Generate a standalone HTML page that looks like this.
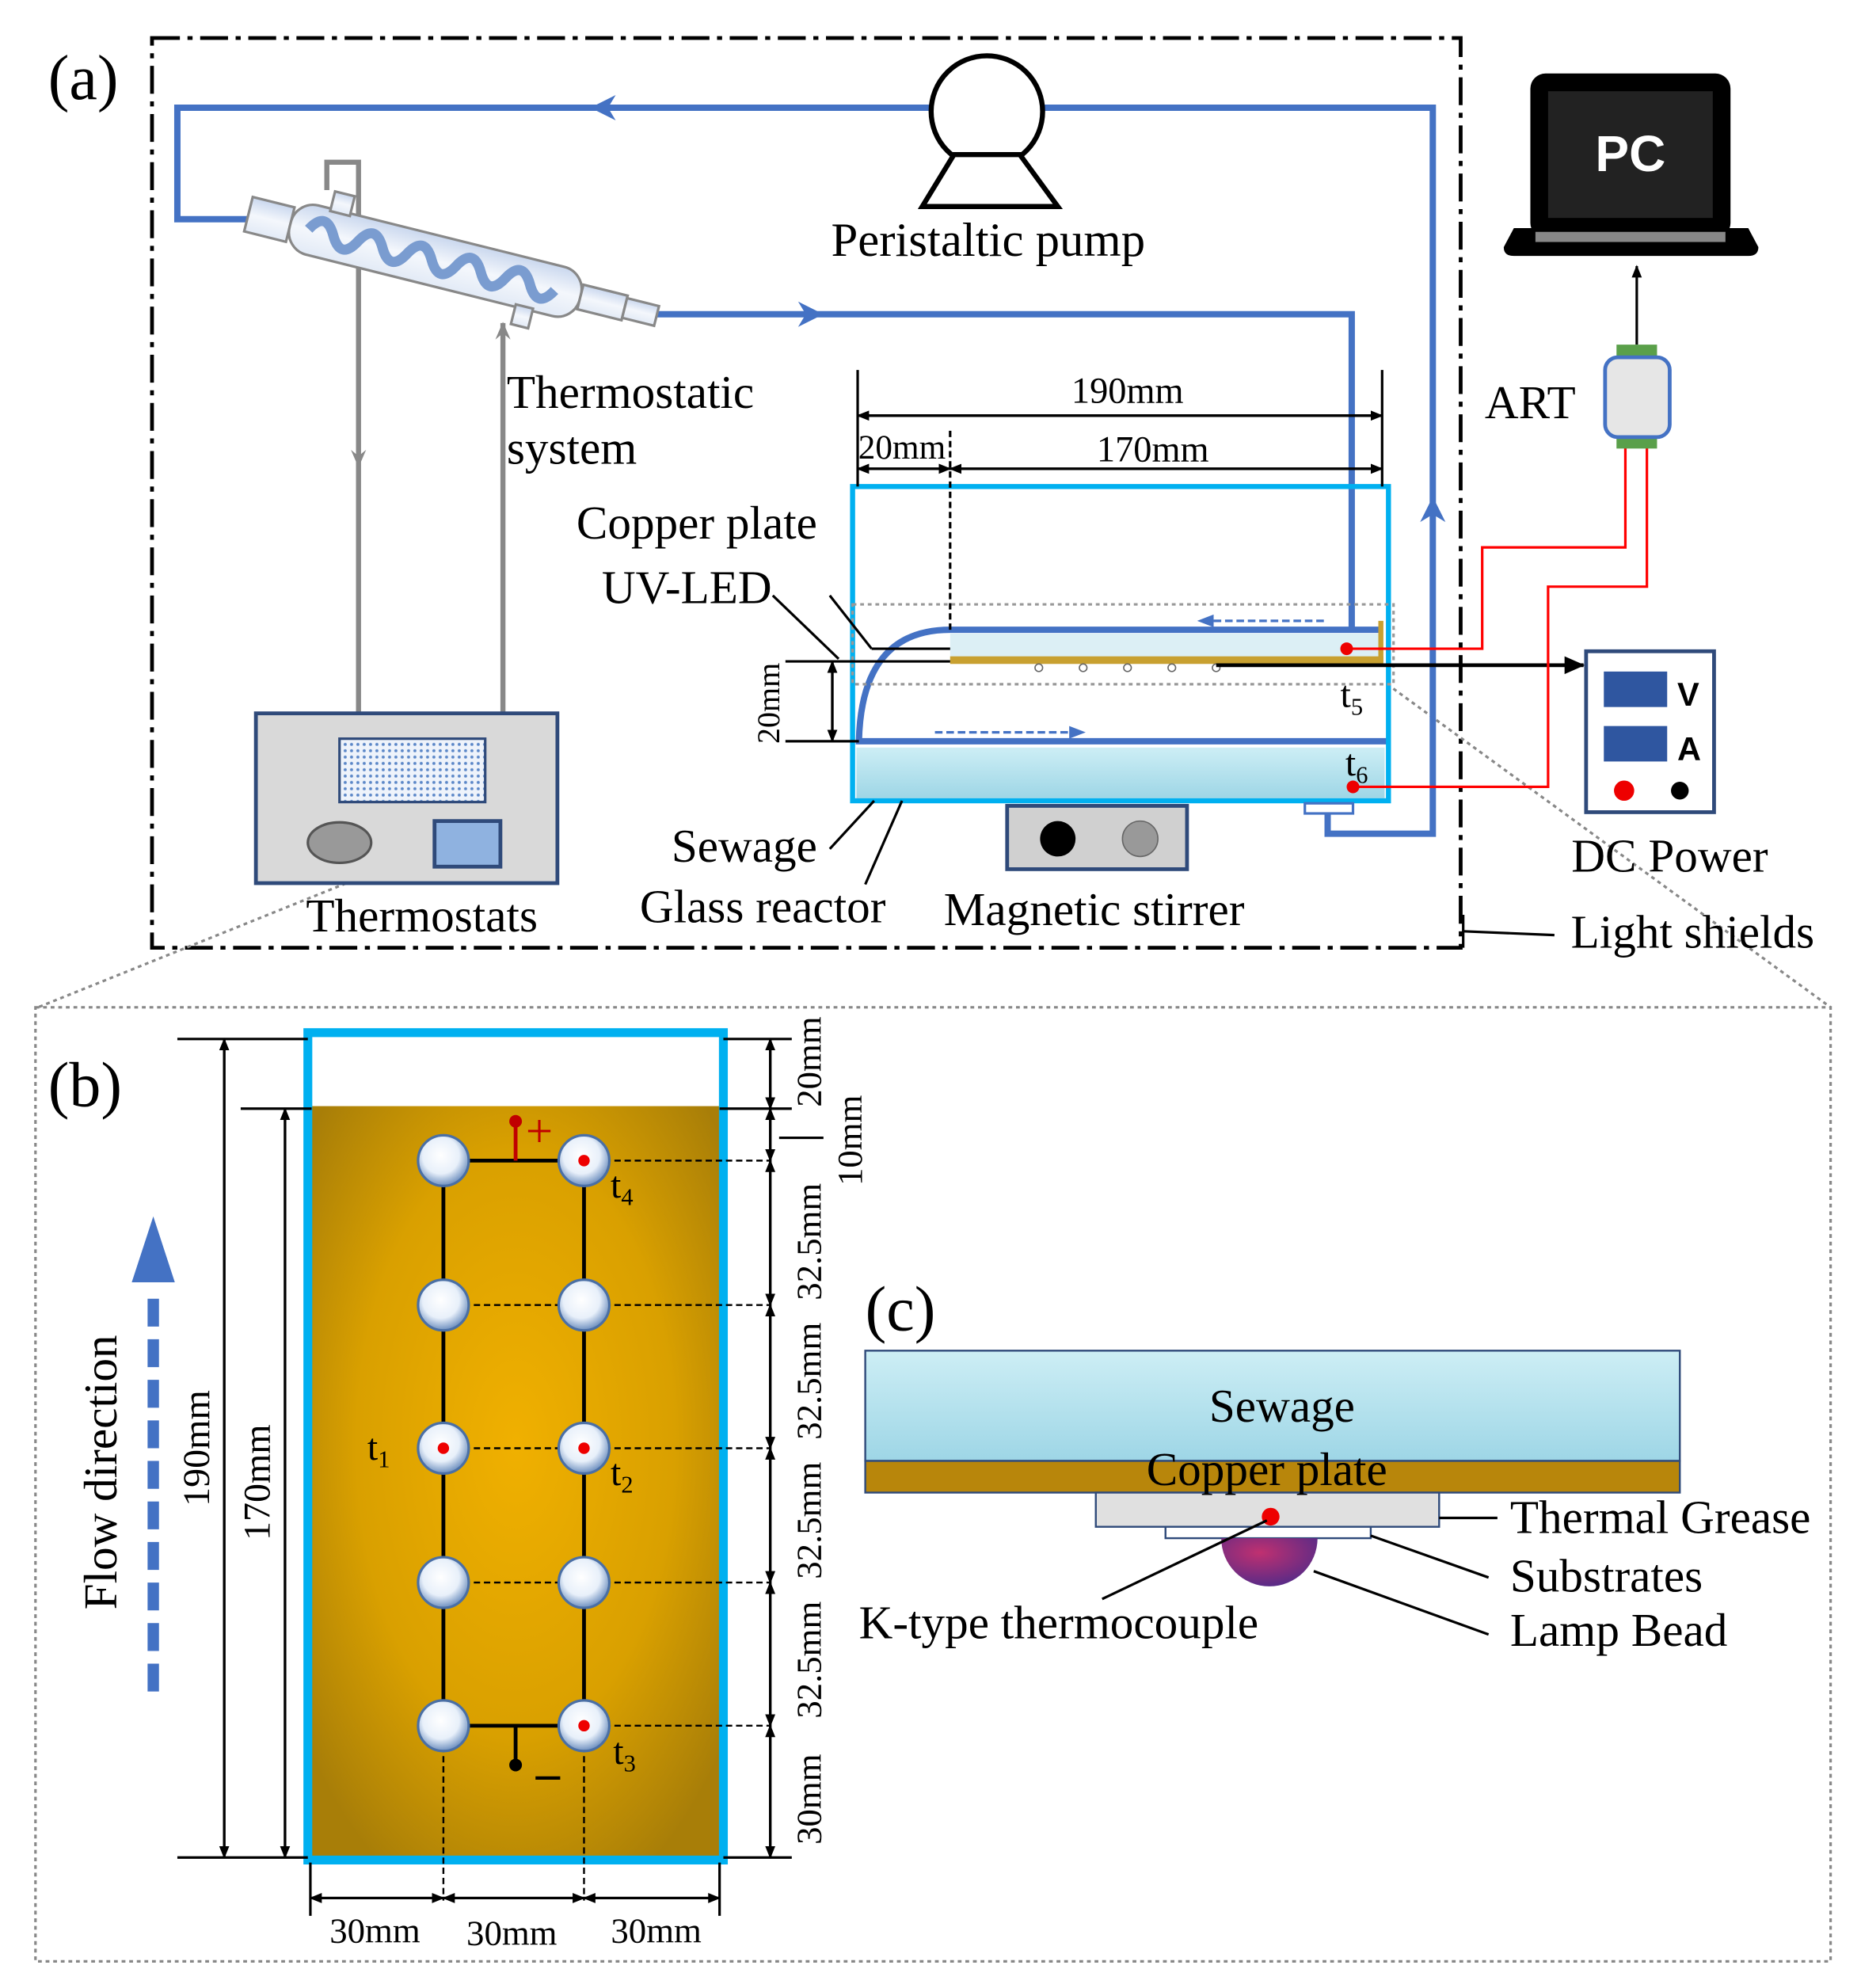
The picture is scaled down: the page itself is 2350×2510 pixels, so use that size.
<!DOCTYPE html>
<html><head><meta charset="utf-8"><style>
html,body{margin:0;padding:0;background:#fff;}
svg{display:block;}
text{font-family:"Liberation Serif",serif;fill:#000;}
</style></head><body>
<svg width="2350" height="2510" viewBox="0 0 1469 1569" preserveAspectRatio="none" xmlns="http://www.w3.org/2000/svg">
<defs>
<radialGradient id="cu" cx="50%" cy="45%" r="65%"><stop offset="0" stop-color="#F0B000"/><stop offset="0.6" stop-color="#D9A000"/><stop offset="1" stop-color="#A87E08"/></radialGradient>
<linearGradient id="water" x1="0" y1="0" x2="0" y2="1"><stop offset="0" stop-color="#CDEEF5"/><stop offset="1" stop-color="#9ED6E6"/></linearGradient>
<radialGradient id="ball" cx="45%" cy="40%" r="60%"><stop offset="0" stop-color="#fff"/><stop offset="0.6" stop-color="#E8F0FA"/><stop offset="1" stop-color="#6D8FBF"/></radialGradient>
<linearGradient id="glass" x1="0" y1="0" x2="0" y2="1"><stop offset="0" stop-color="#C9D7EE"/><stop offset="0.5" stop-color="#F4F7FC"/><stop offset="1" stop-color="#E2EAF6"/></linearGradient>
<radialGradient id="bead" cx="40%" cy="30%" r="80%"><stop offset="0" stop-color="#C03070"/><stop offset="1" stop-color="#4A2A8A"/></radialGradient>
<pattern id="dots" width="5" height="5" patternUnits="userSpaceOnUse"><rect width="5" height="5" fill="#EEF3FB"/><circle cx="2.5" cy="2.5" r="1.2" fill="#5B87C8"/></pattern>
<marker id="ab" markerWidth="10" markerHeight="10" refX="9" refY="5" orient="auto" markerUnits="userSpaceOnUse"><path d="M0,1 L10,5 L0,9 z" fill="#000"/></marker>
<marker id="ag" markerWidth="14" markerHeight="14" refX="13" refY="7" orient="auto" markerUnits="userSpaceOnUse"><path d="M0,1 L14,7 L0,13 L5,7z" fill="#888"/></marker>
<marker id="abig" markerWidth="16" markerHeight="16" refX="15" refY="8" orient="auto" markerUnits="userSpaceOnUse"><path d="M0,1 L16,8 L0,15 z" fill="#000"/></marker>
</defs>

<rect x="120" y="30" width="1033" height="718" fill="none" stroke="#000" stroke-width="3" stroke-dasharray="22 6 4 6"/>
<text x="38" y="78" font-size="50">(a)</text>

<line x1="440" y1="630" x2="30" y2="795" stroke="#888" stroke-width="2" stroke-dasharray="3 3"/>
<line x1="1095" y1="540" x2="1445" y2="795" stroke="#888" stroke-width="2" stroke-dasharray="3 3"/>
<rect x="28" y="795" width="1417" height="753" fill="none" stroke="#888" stroke-width="2" stroke-dasharray="3 3"/>

<g fill="none" stroke="#4472C4" stroke-width="5">
<polyline points="735,85 140,85 140,173 205,173"/>
<polyline points="822,85 1131,85 1131,658 1048,658 1048,640"/>
<polyline points="508,248 1067,248 1067,497"/>
<path d="M1090,497 L750,497 Q680,497 678,585 L1095,585"/>
</g>
<path d="M466,85 L486,75 L480,85 L486,95z" fill="#4472C4"/>
<path d="M650,248 L630,238 L636,248 L630,258z" fill="#4472C4"/>
<path d="M1131,392 L1121,412 L1131,406 L1141,412z" fill="#4472C4"/>

<circle cx="779" cy="88" r="44" fill="#fff" stroke="#000" stroke-width="4"/>
<path d="M728,163 L835,163 L805,122 L753,122z" fill="#fff" stroke="#000" stroke-width="4"/>
<text x="780" y="202" font-size="38" text-anchor="middle">Peristaltic pump</text>

<polyline points="258,150 258,128 283,128 283,563" fill="none" stroke="#888" stroke-width="4"/>
<line x1="283" y1="330" x2="283" y2="368" stroke="#888" stroke-width="3" marker-end="url(#ag)"/>
<line x1="397" y1="563" x2="397" y2="255" stroke="#888" stroke-width="4" marker-end="url(#ag)"/>

<g transform="translate(200,170) rotate(14)">
<rect x="-4" y="-14" width="34" height="28" fill="url(#glass)" stroke="#888" stroke-width="2"/>
<rect x="30" y="-20" width="236" height="40" rx="18" fill="url(#glass)" stroke="#888" stroke-width="2"/>
<path d="M45,0 q10,-18 20,0 t20,0 t20,0 t20,0 t20,0 t20,0 t20,0 t20,0 t20,0 t20,0" fill="none" stroke="#7A9CD0" stroke-width="8"/>
<rect x="266" y="-10" width="36" height="20" fill="url(#glass)" stroke="#888" stroke-width="2"/>
<rect x="302" y="-8" width="26" height="16" fill="url(#glass)" stroke="#888" stroke-width="2"/>
<rect x="58" y="-34" width="16" height="16" fill="url(#glass)" stroke="#888" stroke-width="2"/>
<rect x="218" y="18" width="14" height="16" fill="url(#glass)" stroke="#888" stroke-width="2"/>
</g>
<text x="400" y="322" font-size="37">Thermostatic</text>
<text x="400" y="366" font-size="37">system</text>

<rect x="202" y="563" width="238" height="134" fill="#D9D9D9" stroke="#2F4A7A" stroke-width="3"/>
<rect x="268" y="583" width="115" height="50" fill="url(#dots)" stroke="#2F4A7A" stroke-width="2"/>
<ellipse cx="268" cy="665" rx="25" ry="16" fill="#999" stroke="#555" stroke-width="2"/>
<rect x="343" y="648" width="52" height="36" fill="#8FB2E0" stroke="#2F4A7A" stroke-width="3"/>
<text x="333" y="735" font-size="37" text-anchor="middle">Thermostats</text>

<rect x="676" y="590" width="417" height="40" fill="url(#water)"/>
<rect x="673" y="384" width="423" height="248" fill="none" stroke="#00B0F0" stroke-width="4"/>
<rect x="673" y="477" width="427" height="63" fill="none" stroke="#999" stroke-width="2" stroke-dasharray="3 3"/>
<rect x="750" y="500" width="340" height="22" fill="#DCEFF5"/>
<rect x="750" y="518" width="342" height="6" fill="#C8A030"/>
<line x1="1090" y1="490" x2="1090" y2="522" stroke="#C8A030" stroke-width="4"/>
<g fill="#fff" stroke="#666" stroke-width="1">
<circle cx="820" cy="527" r="3"/><circle cx="855" cy="527" r="3"/><circle cx="890" cy="527" r="3"/><circle cx="925" cy="527" r="3"/><circle cx="960" cy="527" r="3"/>
</g>
<line x1="1045" y1="490" x2="955" y2="490" stroke="#4472C4" stroke-width="2" stroke-dasharray="6 3"/>
<path d="M945,490 L958,485 L958,495z" fill="#4472C4"/>
<line x1="738" y1="578" x2="845" y2="578" stroke="#4472C4" stroke-width="2" stroke-dasharray="6 3"/>
<path d="M857,578 L844,573 L844,583z" fill="#4472C4"/>
<rect x="1030" y="634" width="38" height="8" fill="#fff" stroke="#4472C4" stroke-width="2"/>

<g stroke="#000" stroke-width="2">
<line x1="677" y1="292" x2="677" y2="384"/>
<line x1="1091" y1="292" x2="1091" y2="384"/>
<line x1="677" y1="328" x2="1091" y2="328" marker-end="url(#ab)"/>
<line x1="1091" y1="328" x2="677" y2="328" marker-end="url(#ab)"/>
<line x1="677" y1="370" x2="750" y2="370" marker-end="url(#ab)"/>
<line x1="750" y1="370" x2="677" y2="370" marker-end="url(#ab)"/>
<line x1="750" y1="370" x2="1091" y2="370" marker-end="url(#ab)"/>
<line x1="1091" y1="370" x2="750" y2="370" marker-end="url(#ab)"/>
<line x1="750" y1="340" x2="750" y2="497" stroke-dasharray="5 3"/>
<line x1="620" y1="522" x2="750" y2="522"/>
<line x1="620" y1="585" x2="678" y2="585"/>
<line x1="657" y1="522" x2="657" y2="585" marker-end="url(#ab)"/>
<line x1="657" y1="585" x2="657" y2="522" marker-end="url(#ab)"/>
<line x1="610" y1="470" x2="662" y2="520"/>
<line x1="655" y1="470" x2="688" y2="512"/>
<line x1="688" y1="512" x2="750" y2="512"/>
</g>
<text x="890" y="318" font-size="29" text-anchor="middle">190mm</text>
<text x="712" y="362" font-size="27" text-anchor="middle">20mm</text>
<text x="910" y="364" font-size="29" text-anchor="middle">170mm</text>
<text transform="translate(615,555) rotate(-90)" font-size="25" text-anchor="middle">20mm</text>
<text x="455" y="425" font-size="37">Copper plate</text>
<text x="475" y="476" font-size="37">UV-LED</text>
<line x1="960" y1="525" x2="1250" y2="525" stroke="#000" stroke-width="3" marker-end="url(#abig)"/>

<g fill="none" stroke="#FF0000" stroke-width="2">
<polyline points="1063,512 1170,512 1170,432 1283,432 1283,352"/>
<polyline points="1068,621 1222,621 1222,463 1300,463 1300,352"/>
</g>
<circle cx="1063" cy="512" r="5" fill="#E00"/>
<circle cx="1068" cy="621" r="5" fill="#E00"/>
<text x="1058" y="558" font-size="30">t<tspan font-size="19" dy="6">5</tspan></text>
<text x="1062" y="612" font-size="30">t<tspan font-size="19" dy="6">6</tspan></text>

<rect x="795" y="636" width="142" height="50" fill="#D0D0D0" stroke="#2F4A7A" stroke-width="3"/>
<circle cx="835" cy="662" r="14" fill="#000"/>
<circle cx="900" cy="662" r="14" fill="#999" stroke="#666"/>
<text x="530" y="680" font-size="37">Sewage</text>
<text x="505" y="728" font-size="37">Glass reactor</text>
<text x="745" y="730" font-size="37">Magnetic stirrer</text>
<line x1="655" y1="670" x2="690" y2="632" stroke="#000" stroke-width="2"/>
<line x1="683" y1="698" x2="712" y2="632" stroke="#000" stroke-width="2"/>

<line x1="1292" y1="272" x2="1292" y2="210" stroke="#000" stroke-width="2" marker-end="url(#ab)"/>
<rect x="1276" y="272" width="32" height="10" fill="#5AA04A"/>
<rect x="1276" y="344" width="32" height="10" fill="#5AA04A"/>
<rect x="1267" y="282" width="51" height="63" rx="10" fill="#E6E6E6" stroke="#4472C4" stroke-width="3"/>
<text x="1172" y="330" font-size="37">ART</text>
<rect x="1208" y="58" width="158" height="130" rx="12" fill="#000"/>
<rect x="1222" y="72" width="130" height="100" fill="#222"/>
<path d="M1195,180 L1380,180 L1388,195 Q1388,202 1380,202 L1195,202 Q1187,202 1187,195z" fill="#000"/>
<rect x="1212" y="183" width="150" height="8" fill="#888"/>
<text x="1287" y="135" font-size="40" font-weight="bold" text-anchor="middle" style="font-family:'Liberation Sans',sans-serif;fill:#fff">PC</text>

<rect x="1252" y="514" width="101" height="127" fill="#fff" stroke="#2F4A7A" stroke-width="3"/>
<rect x="1266" y="530" width="50" height="28" fill="#2F56A0"/>
<rect x="1266" y="573" width="50" height="28" fill="#2F56A0"/>
<text x="1324" y="557" font-size="26" font-weight="bold" style="font-family:'Liberation Sans',sans-serif">V</text>
<text x="1324" y="600" font-size="26" font-weight="bold" style="font-family:'Liberation Sans',sans-serif">A</text>
<circle cx="1282" cy="624" r="8" fill="#E00"/>
<circle cx="1326" cy="624" r="7" fill="#000"/>
<text x="1318" y="688" font-size="37" text-anchor="middle">DC Power</text>
<line x1="1155" y1="735" x2="1227" y2="738" stroke="#000" stroke-width="2"/>
<line x1="1155" y1="722" x2="1155" y2="748" stroke="#000" stroke-width="2"/>
<text x="1240" y="748" font-size="37">Light shields</text>

<text x="38" y="873" font-size="50">(b)</text>
<rect x="246" y="873" width="322" height="593" fill="url(#cu)"/>
<rect x="243" y="815" width="328" height="653" fill="none" stroke="#00B0F0" stroke-width="7"/>
<g stroke="#000" stroke-width="1.5" stroke-dasharray="5 3">
<line x1="350" y1="1030" x2="461" y2="1030"/><line x1="350" y1="1143" x2="461" y2="1143"/><line x1="350" y1="1249" x2="461" y2="1249"/>
<line x1="461" y1="916" x2="608" y2="916"/><line x1="461" y1="1030" x2="608" y2="1030"/><line x1="461" y1="1143" x2="608" y2="1143"/><line x1="461" y1="1249" x2="608" y2="1249"/><line x1="461" y1="1362" x2="608" y2="1362"/>
<line x1="350" y1="1362" x2="350" y2="1500"/><line x1="461" y1="1362" x2="461" y2="1500"/>
</g>
<g stroke="#000" stroke-width="3" fill="none">
<polyline points="350,1362 350,916 461,916 461,1362 350,1362"/>
<line x1="407" y1="1362" x2="407" y2="1392"/>
</g>
<circle cx="407" cy="1393" r="5" fill="#000"/>
<text x="423" y="1412" font-size="38" font-weight="bold">–</text>
<line x1="407" y1="916" x2="407" y2="886" stroke="#C00000" stroke-width="3"/>
<circle cx="407" cy="885" r="5" fill="#C00000"/>
<text x="415" y="905" font-size="38" style="fill:#C00000">+</text>
<g fill="url(#ball)" stroke="#4A6FA5" stroke-width="2">
<circle cx="350" cy="916" r="20"/><circle cx="461" cy="916" r="20"/>
<circle cx="350" cy="1030" r="20"/><circle cx="461" cy="1030" r="20"/>
<circle cx="350" cy="1143" r="20"/><circle cx="461" cy="1143" r="20"/>
<circle cx="350" cy="1249" r="20"/><circle cx="461" cy="1249" r="20"/>
<circle cx="350" cy="1362" r="20"/><circle cx="461" cy="1362" r="20"/>
</g>
<g fill="#E00"><circle cx="461" cy="916" r="4.5"/><circle cx="350" cy="1143" r="4.5"/><circle cx="461" cy="1143" r="4.5"/><circle cx="461" cy="1362" r="4.5"/></g>
<text x="482" y="945" font-size="30">t<tspan font-size="19" dy="6">4</tspan></text>
<text x="290" y="1152" font-size="30">t<tspan font-size="19" dy="6">1</tspan></text>
<text x="482" y="1172" font-size="30">t<tspan font-size="19" dy="6">2</tspan></text>
<text x="484" y="1392" font-size="30">t<tspan font-size="19" dy="6">3</tspan></text>

<g stroke="#000" stroke-width="2">
<line x1="140" y1="820" x2="243" y2="820"/><line x1="190" y1="875" x2="246" y2="875"/><line x1="140" y1="1466" x2="243" y2="1466"/>
<line x1="177" y1="820" x2="177" y2="1466" marker-end="url(#ab)"/><line x1="177" y1="1466" x2="177" y2="820" marker-end="url(#ab)"/>
<line x1="225" y1="875" x2="225" y2="1466" marker-end="url(#ab)"/><line x1="225" y1="1466" x2="225" y2="875" marker-end="url(#ab)"/>
<line x1="571" y1="820" x2="625" y2="820"/><line x1="568" y1="875" x2="625" y2="875"/><line x1="571" y1="1466" x2="625" y2="1466"/>
<line x1="608" y1="820" x2="608" y2="875" marker-end="url(#ab)"/><line x1="608" y1="875" x2="608" y2="820" marker-end="url(#ab)"/>
<line x1="608" y1="875" x2="608" y2="916" marker-end="url(#ab)"/><line x1="608" y1="916" x2="608" y2="875" marker-end="url(#ab)"/>
<line x1="608" y1="916" x2="608" y2="1030" marker-end="url(#ab)"/><line x1="608" y1="1030" x2="608" y2="916" marker-end="url(#ab)"/>
<line x1="608" y1="1030" x2="608" y2="1143" marker-end="url(#ab)"/><line x1="608" y1="1143" x2="608" y2="1030" marker-end="url(#ab)"/>
<line x1="608" y1="1143" x2="608" y2="1249" marker-end="url(#ab)"/><line x1="608" y1="1249" x2="608" y2="1143" marker-end="url(#ab)"/>
<line x1="608" y1="1249" x2="608" y2="1362" marker-end="url(#ab)"/><line x1="608" y1="1362" x2="608" y2="1249" marker-end="url(#ab)"/>
<line x1="608" y1="1362" x2="608" y2="1466" marker-end="url(#ab)"/><line x1="608" y1="1466" x2="608" y2="1362" marker-end="url(#ab)"/>
<line x1="615" y1="898" x2="650" y2="898"/>
<line x1="245" y1="1470" x2="245" y2="1512"/><line x1="568" y1="1470" x2="568" y2="1512"/>
<line x1="245" y1="1498" x2="350" y2="1498" marker-end="url(#ab)"/><line x1="350" y1="1498" x2="245" y2="1498" marker-end="url(#ab)"/>
<line x1="350" y1="1498" x2="461" y2="1498" marker-end="url(#ab)"/><line x1="461" y1="1498" x2="350" y2="1498" marker-end="url(#ab)"/>
<line x1="461" y1="1498" x2="568" y2="1498" marker-end="url(#ab)"/><line x1="568" y1="1498" x2="461" y2="1498" marker-end="url(#ab)"/>
</g>
<text transform="translate(165,1143) rotate(-90)" font-size="30" text-anchor="middle">190mm</text>
<text transform="translate(213,1170) rotate(-90)" font-size="30" text-anchor="middle">170mm</text>
<text transform="translate(648,838) rotate(-90)" font-size="28" text-anchor="middle">20mm</text>
<text transform="translate(680,900) rotate(-90)" font-size="28" text-anchor="middle">10mm</text>
<text transform="translate(648,980) rotate(-90)" font-size="28" text-anchor="middle">32.5mm</text>
<text transform="translate(648,1090) rotate(-90)" font-size="28" text-anchor="middle">32.5mm</text>
<text transform="translate(648,1200) rotate(-90)" font-size="28" text-anchor="middle">32.5mm</text>
<text transform="translate(648,1310) rotate(-90)" font-size="28" text-anchor="middle">32.5mm</text>
<text transform="translate(648,1420) rotate(-90)" font-size="28" text-anchor="middle">30mm</text>
<text x="296" y="1533" font-size="28" text-anchor="middle">30mm</text>
<text x="404" y="1535" font-size="28" text-anchor="middle">30mm</text>
<text x="518" y="1533" font-size="28" text-anchor="middle">30mm</text>

<line x1="121" y1="1335" x2="121" y2="1015" stroke="#4472C4" stroke-width="9" stroke-dasharray="22 10"/>
<path d="M121,960 L104,1012 L138,1012z" fill="#4472C4"/>
<text transform="translate(92,1162) rotate(-90)" font-size="37" text-anchor="middle">Flow direction</text>

<text x="683" y="1050" font-size="50">(c)</text>
<rect x="683" y="1066" width="643" height="87" fill="url(#water)" stroke="#2F4A7A" stroke-width="1.5"/>
<rect x="683" y="1153" width="643" height="25" fill="#B8860B" stroke="#2F4A7A" stroke-width="1.5"/>
<rect x="865" y="1178" width="271" height="27" fill="#E0E0E0" stroke="#2F4A7A" stroke-width="1.5"/>
<rect x="920" y="1205" width="162" height="9" fill="#fff" stroke="#2F4A7A" stroke-width="1.5"/>
<path d="M964,1214 A38,38 0 0 0 1040,1214z" fill="url(#bead)"/>
<circle cx="1003" cy="1197" r="7" fill="#E00"/>
<text x="1012" y="1122" font-size="37" text-anchor="middle">Sewage</text>
<text x="1000" y="1172" font-size="37" text-anchor="middle">Copper plate</text>
<text x="1192" y="1210" font-size="37">Thermal Grease</text>
<text x="1192" y="1256" font-size="37">Substrates</text>
<text x="1192" y="1299" font-size="37">Lamp Bead</text>
<text x="678" y="1293" font-size="37">K-type thermocouple</text>
<g stroke="#000" stroke-width="2">
<line x1="1136" y1="1198" x2="1182" y2="1198"/>
<line x1="1082" y1="1212" x2="1175" y2="1245"/>
<line x1="1037" y1="1240" x2="1175" y2="1290"/>
<line x1="870" y1="1262" x2="1000" y2="1200"/>
</g>
</svg>
</body></html>
